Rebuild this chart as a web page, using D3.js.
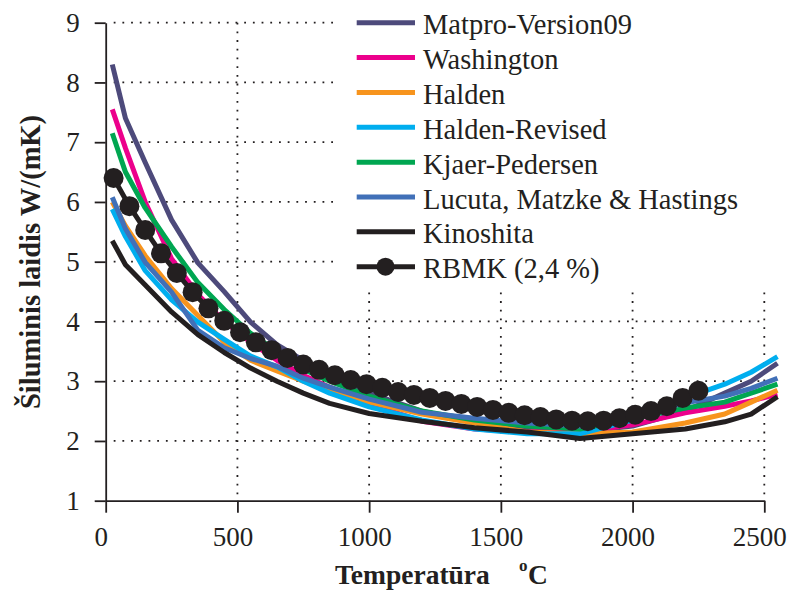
<!DOCTYPE html>
<html><head><meta charset="utf-8">
<script src="https://cdn.jsdelivr.net/npm/d3@7"></script>
<style>html,body{margin:0;padding:0;background:#fff;}svg{display:block;}</style>
</head><body>
<svg id="c" width="790" height="591"></svg>
<script>
// ---- data ----
const temps = [25, 75, 150, 250, 350, 450, 550, 650, 750, 850, 1000, 1200, 1400, 1600, 1800, 2000, 2200, 2350, 2450, 2550];
const matpro     = [8.3, 7.4, 6.66, 5.7, 4.98, 4.5, 3.99, 3.61, 3.35, 3.1, 2.8, 2.5, 2.32, 2.2, 2.15, 2.25, 2.5, 2.8, 3.0, 3.3];
const washington = [7.55, 6.9, 6.0, 5.05, 4.45, 4.0, 3.65, 3.35, 3.1, 2.9, 2.62, 2.33, 2.2, 2.15, 2.15, 2.27, 2.47, 2.58, 2.67, 2.78];
const halden     = [6.0, 5.6, 5.1, 4.55, 4.1, 3.65, 3.35, 3.17, 3.0, 2.85, 2.65, 2.45, 2.3, 2.15, 2.12, 2.15, 2.3, 2.45, 2.65, 2.85];
const haldenRev  = [5.88, 5.42, 4.85, 4.36, 3.99, 3.7, 3.42, 3.24, 3.0, 2.8, 2.57, 2.35, 2.2, 2.12, 2.12, 2.35, 2.72, 2.95, 3.15, 3.41];
const kjaer      = [7.15, 6.5, 5.9, 5.25, 4.65, 4.2, 3.8, 3.5, 3.2, 3.0, 2.75, 2.5, 2.35, 2.25, 2.2, 2.38, 2.55, 2.65, 2.8, 2.95];
const lucuta     = [6.08, 5.55, 4.99, 4.49, 3.85, 3.56, 3.38, 3.25, 3.05, 2.9, 2.7, 2.48, 2.38, 2.3, 2.25, 2.42, 2.64, 2.75, 2.88, 3.05];
const kinoshita  = [5.35, 4.95, 4.61, 4.16, 3.78, 3.48, 3.22, 3.0, 2.8, 2.63, 2.46, 2.33, 2.22, 2.15, 2.04, 2.12, 2.2, 2.32, 2.45, 2.74];
const rbmkTemps  = [30, 90, 150, 210, 270, 330, 390, 450, 510, 570, 630, 690, 750, 810, 870, 930, 990, 1050, 1110, 1170, 1230, 1290, 1350, 1410, 1470, 1530, 1590, 1650, 1710, 1770, 1830, 1890, 1950, 2010, 2070, 2130, 2190, 2250];
const rbmk       = [6.4, 5.93, 5.53, 5.14, 4.81, 4.49, 4.22, 4.01, 3.82, 3.65, 3.52, 3.39, 3.28, 3.19, 3.1, 3.02, 2.95, 2.89, 2.82, 2.77, 2.72, 2.67, 2.62, 2.57, 2.52, 2.47, 2.43, 2.4, 2.36, 2.34, 2.33, 2.34, 2.38, 2.44, 2.5, 2.58, 2.72, 2.84];
const seriesNames = ["Matpro-Version09", "Washington", "Halden", "Halden-Revised", "Kjaer-Pedersen", "Lucuta, Matzke & Hastings", "Kinoshita", "RBMK (2,4 %)"];
const seriesColors = ["#4d4a7b", "#ec008c", "#f7941d", "#00aeef", "#00a651", "#4170b8", "#231f20", "#231f20"];
const xTicks = [0, 500, 1000, 1500, 2000, 2500];
const yTicks = [1, 2, 3, 4, 5, 6, 7, 8, 9];
const xTitle = "Temperatūra";
const yTitle = "Šiluminis laidis W/(mK)";

// ---- drawing ----
const svg = d3.select("#c");
const font = "'Liberation Serif', 'Times New Roman', serif";
const x = d3.scaleLinear().domain([0, 2500]).range([105.7, 764.3]);
const y = d3.scaleLinear().domain([1, 9]).range([500.7, 22.7]);

// grid
const grid = svg.append("g").attr("stroke", "#231f20").attr("stroke-width", 1.8).attr("stroke-dasharray", "1.8,6.9");
grid.selectAll("line.h").data(yTicks.filter(d => d > 1)).join("line")
  .attr("x1", x(0) + 8).attr("x2", x(2500)).attr("y1", d => y(d)).attr("y2", d => y(d));
grid.selectAll("line.v").data(xTicks.filter(d => d > 0)).join("line")
  .attr("x1", d => x(d)).attr("x2", d => x(d)).attr("y1", y(9)).attr("y2", y(1) - 4);

// legend background hides grid
svg.append("rect").attr("x", 335).attr("y", 0).attr("width", 455).attr("height", 292).attr("fill", "#fff");

// axes
const xAxis = svg.append("g").attr("transform", `translate(0,${y(1)})`)
  .call(d3.axisBottom(x).tickValues(xTicks).tickFormat(d3.format("d")).tickSize(12).tickSizeOuter(0).tickPadding(14));
const yAxis = svg.append("g").attr("transform", `translate(${x(0)},0)`)
  .call(d3.axisLeft(y).tickValues(yTicks).tickFormat(d3.format("d")).tickSize(11).tickSizeOuter(0).tickPadding(15));
[xAxis, yAxis].forEach(a => {
  a.selectAll("path,line").attr("stroke", "#231f20").attr("stroke-width", 1.8);
  a.selectAll("text").attr("font-family", font).attr("font-size", 27).attr("fill", "#231f20");
});
xAxis.selectAll("text").attr("dx", -5);

// lines
const modelValues = [matpro, washington, halden, haldenRev, kjaer, lucuta, kinoshita];
const line = d3.line().x(d => x(d[0])).y(d => y(d[1]));
modelValues.forEach((vals, i) => {
  svg.append("path").datum(temps.map((t, j) => [t, vals[j]]))
    .attr("d", line).attr("fill", "none").attr("stroke", seriesColors[i])
    .attr("stroke-width", 5).attr("stroke-linejoin", "round");
});
const rb = rbmkTemps.map((t, j) => [t, rbmk[j]]);
svg.append("path").datum(rb).attr("d", line).attr("fill", "none")
  .attr("stroke", seriesColors[7]).attr("stroke-width", 5);
svg.selectAll("circle.rb").data(rb).join("circle")
  .attr("cx", d => x(d[0])).attr("cy", d => y(d[1])).attr("r", 10).attr("fill", seriesColors[7]);

// legend
const lg = svg.append("g");
seriesNames.forEach((name, i) => {
  const ly = 22.7 + i * 34.86;
  lg.append("line").attr("x1", 356.7).attr("x2", 415).attr("y1", ly).attr("y2", ly)
    .attr("stroke", seriesColors[i]).attr("stroke-width", 5);
  if (i === 7) lg.append("circle").attr("cx", 385.5).attr("cy", ly).attr("r", 9).attr("fill", seriesColors[i]);
  lg.append("text").attr("x", 423).attr("y", ly + 11.6).text(name)
    .attr("font-family", font).attr("font-size", 28.5).attr("fill", "#231f20");
});

// axis titles
const xt = svg.append("text").attr("x", 335).attr("y", 584)
  .attr("font-family", font).attr("font-size", 27.5).attr("font-weight", "bold").attr("fill", "#231f20");
xt.append("tspan").text(xTitle);
xt.append("tspan").attr("x", 519).attr("dy", -13).attr("font-size", 17).text("o");
xt.append("tspan").attr("x", 528).attr("dy", 13).text("C");

svg.append("text").attr("transform", "translate(40,262) rotate(-90)")
  .attr("text-anchor", "middle").attr("font-family", font).attr("font-size", 28.5)
  .attr("font-weight", "bold").attr("fill", "#231f20").text(yTitle);
</script>
</body></html>
